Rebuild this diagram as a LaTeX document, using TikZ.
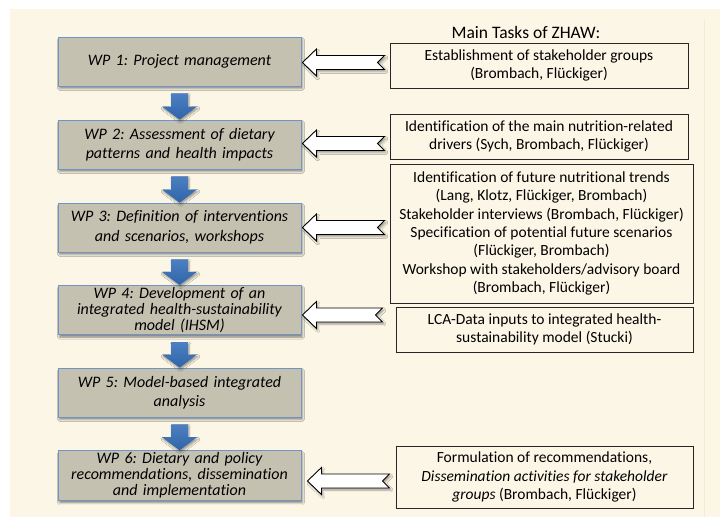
\documentclass[tikz,border=0pt]{standalone}
\usepackage{fontspec}
\setmainfont{Carlito}[Ligatures=CommonOff]
\usetikzlibrary{calc,shadows,shadows.blur}
\frenchspacing
\definecolor{bgcream}{HTML}{FCF6E6}
\definecolor{bgline}{HTML}{F3EBD3}
\definecolor{wpfill}{HTML}{C5C1B1}
\definecolor{wpdraw}{HTML}{6E94C8}
\definecolor{arrtop}{HTML}{4C80C2}
\definecolor{arrbot}{HTML}{2F64A8}
\tikzset{
  wpbox/.style={draw=wpdraw, line width=0.9pt, fill=wpfill, minimum width=243pt, minimum height=49pt,
    text width=238pt, align=center, inner sep=2pt, font=\fontsize{16}{19.5}\selectfont\itshape,
    blur shadow={shadow xshift=1.5pt, shadow yshift=-2.5pt, shadow opacity=45, shadow blur steps=4}},
  tight/.style={font=\fontsize{16}{16}\selectfont\itshape},
  taskbox/.style={draw=black!85, line width=0.9pt, fill=bgcream, align=center, inner sep=2pt,
    font=\fontsize{15.5}{18.3}\selectfont},
  harrowstyle/.style={draw=black, line width=0.9pt, fill=white, line join=miter,
    blur shadow={shadow xshift=1.5pt, shadow yshift=-2pt, shadow opacity=40, shadow blur steps=4}},
  barrowstyle/.style={top color=arrtop, bottom color=arrbot,
    blur shadow={shadow xshift=1pt, shadow yshift=-2pt, shadow opacity=40, shadow blur steps=4}},
  titletext/.style={font=\fontsize{17.5}{20}\selectfont, inner sep=0pt}
}
\newcommand\hollowarr[2]{%
  \path[harrowstyle] let \p1=(#1), \p2=(#2) in
    (\x1,\y1) -- (\x1+14pt,\y1+13.5pt) -- (\x1+14pt,\y1+7pt) -- (\x2,\y1+7pt)
    -- (\x2-7pt,\y1) -- (\x2,\y1-7pt) -- (\x1+14pt,\y1-7pt) -- (\x1+14pt,\y1-13.5pt) -- cycle;}
\newcommand\bluearr[2]{%
  \path[barrowstyle] let \p1=(#1), \p2=(#2) in
    (\x1-8.5pt,\y1-7pt) -- (\x1+8.5pt,\y1-7pt) -- (\x1+8.5pt,\y2+13pt) -- (\x1+17.5pt,\y2+13pt)
    -- (\x1,\y2) -- (\x1-17.5pt,\y2+13pt) -- (\x1-8.5pt,\y2+13pt) -- cycle;}
\begin{document}
\begin{tikzpicture}[x=1pt,y=-1pt]
\useasboundingbox (0,0) rectangle (724,517);
\fill[white] (0,0) rectangle (724,517);
\fill[bgcream] (10,9) rectangle (720,517);
\draw[bgline, line width=0.8pt] (704,20) -- (704,517);

% WP boxes
\node[wpbox] (wp1) at (179.5,61.5) {WP 1: Project management};
\node[wpbox] (wp2) at (179.5,144.5) {WP 2: Assessment of dietary\\patterns and health impacts};
\node[wpbox] (wp3) at (179.5,227.5) {WP 3: Definition of interventions\\and scenarios, workshops};
\node[wpbox,tight] (wp4) at (179.5,310) {WP 4: Development of an\\integrated health-sustainability\\model (IHSM)};
\node[wpbox] (wp5) at (179.5,392.5) {WP 5: Model-based integrated\\analysis};
\node[wpbox,tight] (wp6) at (179.5,475.5) {WP 6: Dietary and policy\\recommendations, dissemination\\and implementation};

% down arrows
\bluearr{wp1.south}{wp2.north}
\bluearr{wp2.south}{wp3.north}
\bluearr{wp3.south}{wp4.north}
\bluearr{wp4.south}{wp5.north}
\bluearr{wp5.south}{wp6.north}

% title
\node[titletext] (title) at (526,32) {Main Tasks of ZHAW:};

% task boxes
\node[taskbox, minimum width=298pt, minimum height=45pt] (t1) at (539,65.5)
  {Establishment of stakeholder groups\\(Brombach, Flückiger)};
\node[taskbox, minimum width=298pt, minimum height=45pt] (t2) at (539,136.5)
  {Identification of the main nutrition-related\\drivers (Sych, Brombach, Flückiger)};
\node[taskbox, minimum width=303pt, minimum height=139pt] (t3) at (541.5,233.5)
  {Identification of future nutritional trends\\(Lang, Klotz, Flückiger, Brombach)\\Stakeholder interviews (Brombach, Flückiger)\\Specification of potential future scenarios\\(Flückiger, Brombach)\\Workshop with stakeholders/advisory board\\(Brombach, Flückiger)};
\node[taskbox, minimum width=297pt, minimum height=45pt] (t4) at (544.5,329.5)
  {LCA-Data inputs to integrated health-\\sustainability model (Stucki)};
\node[taskbox, minimum width=297pt, minimum height=62pt] (t5) at (544.5,477)
  {Formulation of recommendations,\\\textit{Dissemination activities for stakeholder}\\\textit{groups} (Brombach, Flückiger)};

% hollow arrows
\coordinate (a1h) at ($(wp1.east)+(1,1)$);
\coordinate (a1t) at ($(t1.west)+(-5,0)$ |- a1h);
\hollowarr{a1h}{a1t}
\coordinate (a2h) at ($(wp2.east)+(1,-1)$);
\coordinate (a2t) at ($(t2.west)+(-5,0)$ |- a2h);
\hollowarr{a2h}{a2t}
\coordinate (a3h) at ($(wp3.east)+(1,0)$);
\coordinate (a3t) at ($(t3.west)+(-5,0)$ |- a3h);
\hollowarr{a3h}{a3t}
\coordinate (a4h) at ($(wp4.east)+(1,5)$);
\coordinate (a4t) at ($(t4.west)+(-13,0)$ |- a4h);
\hollowarr{a4h}{a4t}
\coordinate (a6h) at ($(wp6.east)+(6,5.5)$);
\coordinate (a6t) at ($(t5.west)+(-6,0)$ |- a6h);
\hollowarr{a6h}{a6t}
\end{tikzpicture}
\end{document}
